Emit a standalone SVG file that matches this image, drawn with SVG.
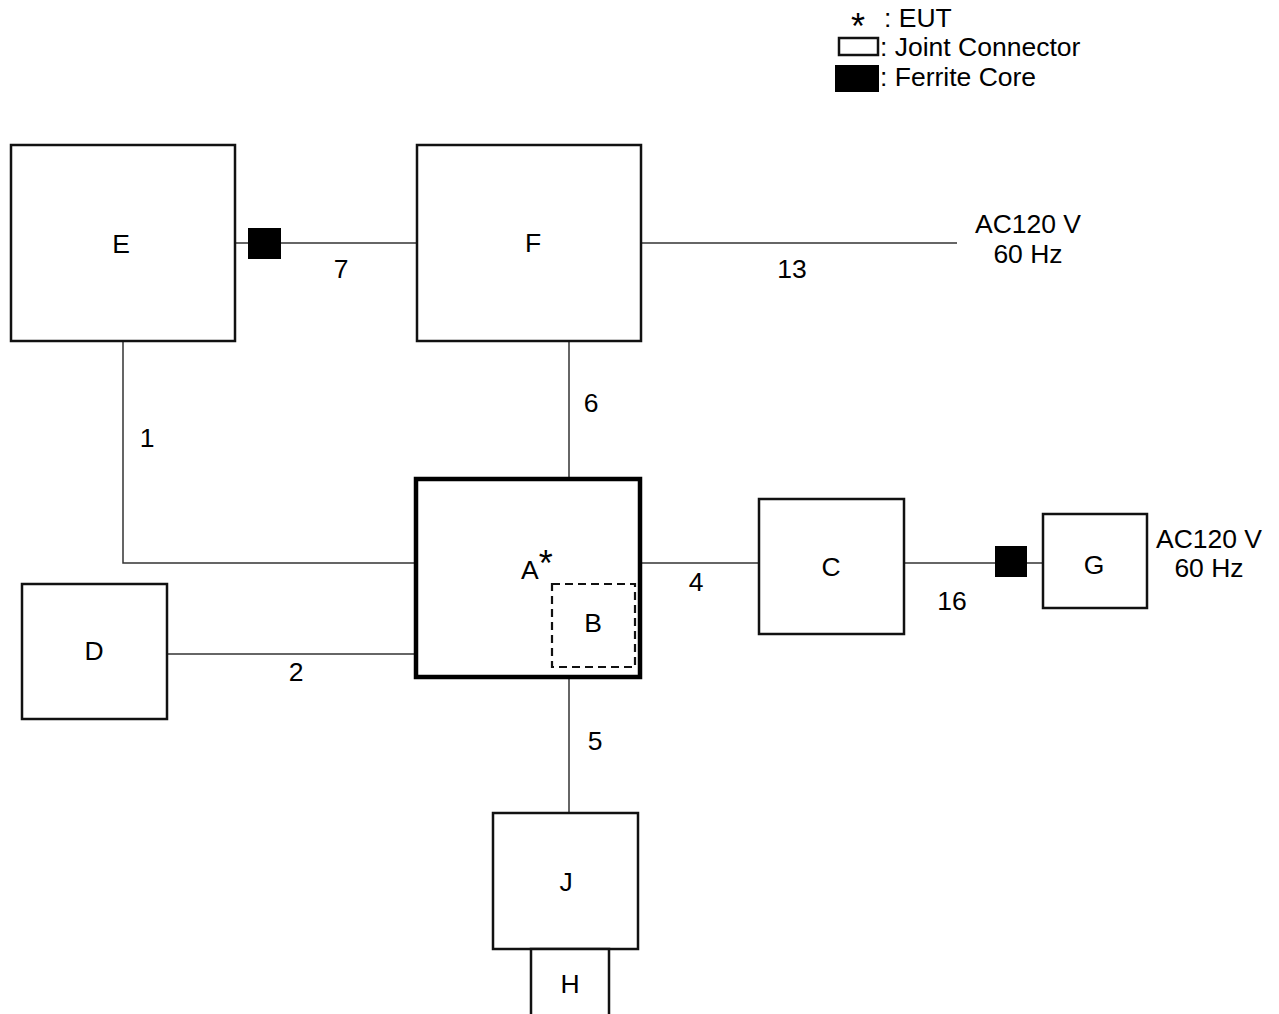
<svg xmlns="http://www.w3.org/2000/svg" width="1279" height="1014" viewBox="0 0 1279 1014">
<style>
.box{fill:#fff;stroke:#111;stroke-width:2.5}
.thick{fill:#fff;stroke:#000;stroke-width:4.5}
.dash{fill:none;stroke:#111;stroke-width:2.2;stroke-dasharray:8,5}
.core{fill:#000;stroke:none}
.wire{fill:none;stroke:#333;stroke-width:1.5}
text{font-family:"Liberation Sans",Arial,sans-serif;font-size:26.5px;fill:#000}
.m{text-anchor:middle}
.ast{font-size:36px}
</style>
<rect width="1279" height="1014" fill="#fff"/>
<g id="legend">
<text x="858" y="39" class="m ast">*</text>
<text x="884" y="27">: EUT</text>
<rect x="839" y="38" width="39" height="17" class="box" stroke-width="2"/>
<text x="880" y="56">: Joint Connector</text>
<rect x="835" y="65" width="44" height="27" class="core"/>
<text x="880" y="86">: Ferrite Core</text>
</g>
<g id="connectors">
<line x1="236" y1="243" x2="416" y2="243" class="wire"/>
<line x1="641" y1="243" x2="957" y2="243" class="wire"/>
<line x1="569" y1="342" x2="569" y2="479" class="wire"/>
<polyline points="123,342 123,563 416,563" class="wire"/>
<line x1="167" y1="654" x2="416" y2="654" class="wire"/>
<line x1="641" y1="563" x2="759" y2="563" class="wire"/>
<line x1="904" y1="563" x2="1043" y2="563" class="wire"/>
<line x1="569" y1="677" x2="569" y2="813" class="wire"/>
<rect x="248" y="228" width="33" height="31" class="core"/>
<rect x="995" y="546" width="32" height="31" class="core"/>
<text x="341" y="278" class="m">7</text>
<text x="792" y="278" class="m">13</text>
<text x="591" y="412" class="m">6</text>
<text x="147" y="447" class="m">1</text>
<text x="296" y="681" class="m">2</text>
<text x="696" y="591" class="m">4</text>
<text x="952" y="610" class="m">16</text>
<text x="595" y="750" class="m">5</text>
<text x="1028" y="233" class="m">AC120 V</text>
<text x="1028" y="263" class="m">60 Hz</text>
<text x="1209" y="548" class="m">AC120 V</text>
<text x="1209" y="577" class="m">60 Hz</text>
</g>
<g id="node-E">
<rect x="11" y="145" width="224" height="196" class="box"/>
<text x="121" y="253" class="m">E</text>
</g>
<g id="node-F">
<rect x="417" y="145" width="224" height="196" class="box"/>
<text x="533" y="252" class="m">F</text>
</g>
<g id="node-A">
<rect x="416" y="479" width="224" height="198" class="thick"/>
<text x="521" y="579">A<tspan class="ast" dy="-3">*</tspan></text>
</g>
<g id="node-B">
<rect x="552" y="584" width="83" height="83" class="dash"/>
<text x="593" y="632" class="m">B</text>
</g>
<g id="node-C">
<rect x="759" y="499" width="145" height="135" class="box"/>
<text x="831" y="576" class="m">C</text>
</g>
<g id="node-D">
<rect x="22" y="584" width="145" height="135" class="box"/>
<text x="94" y="660" class="m">D</text>
</g>
<g id="node-G">
<rect x="1043" y="514" width="104" height="94" class="box"/>
<text x="1094" y="574" class="m">G</text>
</g>
<g id="node-J">
<rect x="493" y="813" width="145" height="136" class="box"/>
<text x="566" y="891" class="m">J</text>
</g>
<g id="node-H">
<polyline points="531,1016 531,949 609,949 609,1016" class="box" fill="none"/>
<text x="570" y="993" class="m">H</text>
</g>
</svg>
